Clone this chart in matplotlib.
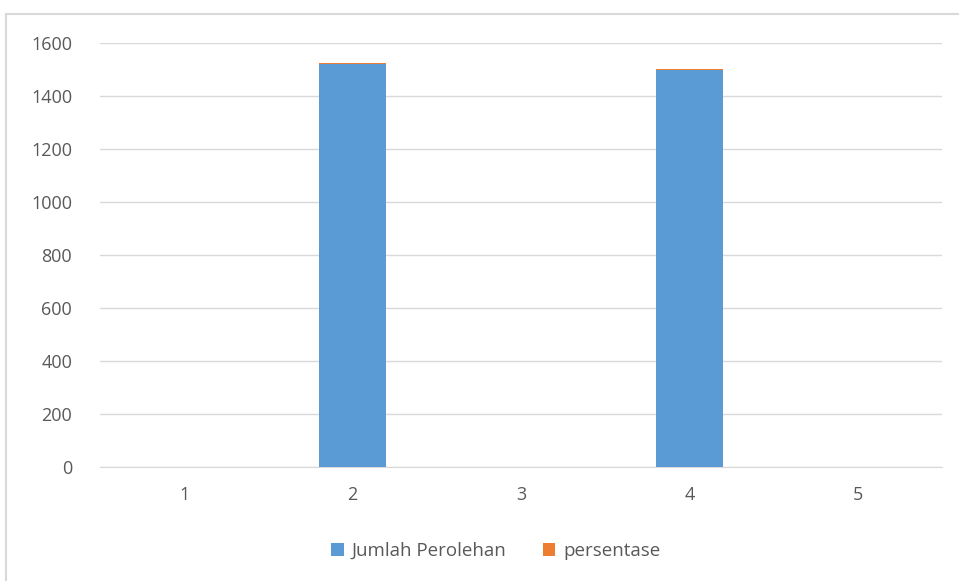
import matplotlib.pyplot as plt
from matplotlib.patches import Rectangle

categories = [1, 2, 3, 4, 5]
jumlah = [0, 1520, 0, 1497, 0]
persentase = [0, 5, 0, 4, 0]

plt.rcParams['font.family'] = ['Open Sans', 'DejaVu Sans']

fig = plt.figure(figsize=(9.59, 5.81), dpi=100)
fig.patches.append(Rectangle((6 / 959, -0.05), 1.0, 1 - 14 / 581 + 0.05,
                             transform=fig.transFigure, fill=False,
                             edgecolor='#d9d9d9', linewidth=1.5))
ax = fig.add_axes([100 / 959, 1 - 467 / 581, 842 / 959, 424 / 581])

ax.bar(categories, jumlah, width=0.4, color='#5b9bd5', label='Jumlah Perolehan', zorder=3)
ax.bar(categories, persentase, width=0.4, bottom=jumlah, color='#ed7d31', label='persentase', zorder=3)

ax.set_xlim(0.5, 5.5)
ax.set_ylim(0, 1600)
ax.set_yticks(range(0, 1601, 200))
ax.set_xticks(categories)
ax.grid(axis='y', color='#d9d9d9', linewidth=1, zorder=0)
for s in ['top', 'right', 'left']:
    ax.spines[s].set_visible(False)
ax.spines['bottom'].set_color('#d9d9d9')
ax.tick_params(axis='both', length=0, labelsize=13, colors='#595959')
ax.tick_params(axis='x', pad=14)
ax.tick_params(axis='y', pad=20)

fig.legend(loc='center', bbox_to_anchor=(0.517, 1 - 551 / 581), ncol=2, frameon=False,
           fontsize=13.5, labelcolor='#595959', handlelength=0.65, handleheight=0.65,
           columnspacing=2.0, handletextpad=0.4)

plt.savefig('out.png', dpi=100)
